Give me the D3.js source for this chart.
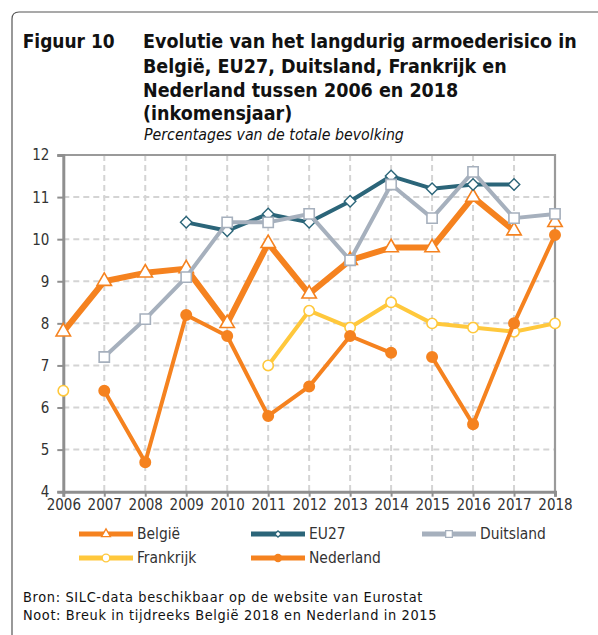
<!DOCTYPE html>
<html><head><meta charset="utf-8">
<script src="https://cdn.jsdelivr.net/npm/d3@7"></script>
<style>html,body{margin:0;padding:0;background:#fff;}svg{display:block;}</style>
</head><body>
<script>
const years = [2006,2007,2008,2009,2010,2011,2012,2013,2014,2015,2016,2017,2018];
const belgie     = [7.8, 9.0, 9.2, 9.3, 8.0, 9.9, 8.7, 9.5, 9.8, 9.8, 11.0, 10.2, 10.4];
const eu27       = [null, null, null, 10.4, 10.2, 10.6, 10.4, 10.9, 11.5, 11.2, 11.3, 11.3, null];
const duitsland  = [null, 7.2, 8.1, 9.1, 10.4, 10.4, 10.6, 9.5, 11.3, 10.5, 11.6, 10.5, 10.6];
const frankrijk  = [6.4, null, null, null, null, 7.0, 8.3, 7.9, 8.5, 8.0, 7.9, 7.8, 8.0];
const nederland  = [null, 6.4, 4.7, 8.2, 7.7, 5.8, 6.5, 7.7, 7.3, 7.2, 5.6, 8.0, 10.1];
const belgieBreaks = [2018];
const nederlandBreaks = [2015];
const yTicks = [4,5,6,7,8,9,10,11,12];
const seriesNames = ["België","EU27","Duitsland","Frankrijk","Nederland"];
const titleLines = ["Evolutie van het langdurig armoederisico in","België, EU27, Duitsland, Frankrijk en","Nederland tussen 2006 en 2018","(inkomensjaar)"];
const figLabel = "Figuur 10";
const subtitle = "Percentages van de totale bevolking";
const footer = ["Bron: SILC-data beschikbaar op de website van Eurostat","Noot: Breuk in tijdreeks België 2018 en Nederland in 2015"];

const W = 598, H = 635;
const FONT = "'DejaVu Sans Condensed','DejaVu Sans',sans-serif";
const svg = d3.select("body").append("svg").attr("width", W).attr("height", H);

// frame
svg.append("path").attr("d", "M12,640 L12,19 Q12,12 19,12 L600,12")
  .attr("fill","none").attr("stroke","#555").attr("stroke-width",1.2);

function fit(sel, target){
  const node = sel.node();
  const fs = parseFloat(sel.attr("font-size"));
  const w = node.getComputedTextLength();
  const nfs = fs * target / w;
  sel.attr("font-size", nfs.toFixed(2));
  return nfs;
}
function spaceFit(sel, target){
  const node = sel.node();
  const w = node.getComputedTextLength();
  const n = node.textContent.length;
  sel.attr("letter-spacing", ((target - w) / n).toFixed(3));
}

// titles
const fl = svg.append("text").attr("x",22.7).attr("y",48).attr("font-family",FONT)
  .attr("font-weight","bold").attr("font-size",18).attr("fill","#111").text(figLabel);
fit(fl, 92);
const titleBase = [48,73,97,120];
const t0 = svg.append("text").attr("x",143).attr("y",titleBase[0]).attr("font-family",FONT)
  .attr("font-weight","bold").attr("font-size",18).attr("fill","#111").text(titleLines[0]);
const tfs = fit(t0, 434);
titleLines.slice(1).forEach((t,i)=>{
  svg.append("text").attr("x",143).attr("y",titleBase[i+1]).attr("font-family",FONT)
    .attr("font-weight","bold").attr("font-size",tfs).attr("fill","#111").text(t);
});
const st = svg.append("text").attr("x",144).attr("y",140).attr("font-family",FONT)
  .attr("font-style","italic").attr("font-size",14).attr("fill","#111").text(subtitle);
fit(st, 260);

// scales
const x = d3.scaleLinear().domain([2006,2018]).range([63.3,555]);
const y = d3.scaleLinear().domain([4,12]).range([491.7,155]);

// grid
const g = svg.append("g");
g.selectAll("line.vg").data(years.slice(1,-1)).join("line")
  .attr("x1",d=>x(d)).attr("x2",d=>x(d)).attr("y1",y(12)).attr("y2",y(4))
  .attr("stroke","#d4d4d4").attr("stroke-width",2).attr("stroke-dasharray","6,4");
g.selectAll("line.hg").data(yTicks.slice(1,-1)).join("line")
  .attr("y1",d=>y(d)).attr("y2",d=>y(d)).attr("x1",x(2006)).attr("x2",x(2018))
  .attr("stroke","#d4d4d4").attr("stroke-width",2).attr("stroke-dasharray","6,4");

// top & right border
svg.append("path").attr("d",`M${x(2006)},${y(12)} L${x(2018)},${y(12)} L${x(2018)},${y(4)}`)
  .attr("fill","none").attr("stroke","#9a9a9a").attr("stroke-width",2.2);

// axes
const yAxis = d3.axisLeft(y).tickValues(yTicks).tickSize(6).tickPadding(8).tickFormat(d3.format("d"));
const xAxis = d3.axisBottom(x).tickValues(years).tickSize(5).tickPadding(3).tickFormat(d3.format("d"));
const ya = svg.append("g").attr("transform",`translate(${x(2006)},0)`).call(yAxis);
const xa = svg.append("g").attr("transform",`translate(0,${y(4)})`).call(xAxis);
[ya,xa].forEach(a=>{
  a.select(".domain").attr("stroke","#8f8f8f").attr("stroke-width",3);
  a.selectAll(".tick line").attr("stroke","#8f8f8f").attr("stroke-width",2);
  a.selectAll(".tick text").attr("font-family",FONT).attr("font-size",15).attr("fill","#333");
});
ya.selectAll(".tick text").attr("dy","0.33em");

// series
const C_OR = "#f5821f", C_TEAL = "#2b6579", C_GREY = "#a6b0bd", C_YEL = "#ffc83c";
function segs(vals, breaks){
  const out = []; let cur = [];
  years.forEach((yr,i)=>{
    const v = vals[i];
    if (v == null || breaks.includes(yr)) { if (cur.length) out.push(cur); cur = []; }
    if (v != null) cur.push([yr,v]);
  });
  if (cur.length) out.push(cur);
  return out;
}
const line = d3.line().x(d=>x(d[0])).y(d=>y(d[1]));

const sym = {
  tri: d3.symbol().type(d3.symbolTriangle),
  dia: d3.symbol().type(d3.symbolSquare),
  sq: d3.symbol().type(d3.symbolSquare),
  cir: d3.symbol().type(d3.symbolCircle)
};
const rot = {tri:0, dia:45, sq:0, cir:0};

const series = [
  {name:seriesNames[0], vals:belgie, breaks:belgieBreaks, color:C_OR, lw:6, marker:"tri", size:90, lsize:34, fill:"#fff", sw:1.6},
  {name:seriesNames[1], vals:eu27, breaks:[], color:C_TEAL, lw:4, marker:"dia", size:66, lsize:20, fill:"#fff", sw:1.4},
  {name:seriesNames[2], vals:duitsland, breaks:[], color:C_GREY, lw:4, marker:"sq", size:105, lsize:45, fill:"#fff", sw:1.6},
  {name:seriesNames[3], vals:frankrijk, breaks:[], color:C_YEL, lw:4, marker:"cir", size:84, lsize:45, fill:"#fff", sw:1.6},
  {name:seriesNames[4], vals:nederland, breaks:nederlandBreaks, color:C_OR, lw:4, marker:"cir", size:113, lsize:55, fill:C_OR, sw:0}
];

series.forEach(s=>{
  const sg = svg.append("g");
  sg.selectAll("path.l").data(segs(s.vals,s.breaks)).join("path")
    .attr("d",line).attr("fill","none").attr("stroke",s.color).attr("stroke-width",s.lw)
    .attr("stroke-linejoin","round");
  const pts = years.map((yr,i)=>[yr,s.vals[i]]).filter(d=>d[1]!=null);
  sg.selectAll("path.m").data(pts).join("path")
    .attr("transform",d=>`translate(${x(d[0])},${y(d[1])}) rotate(${rot[s.marker]})`)
    .attr("d", sym[s.marker].size(s.size)())
    .attr("fill",s.fill).attr("stroke",s.color).attr("stroke-width",s.sw);
});

// legend
const legPos = [[79,534],[251,534],[422,534],[79,558],[251,558]];
let legFs = 14;
series.forEach((s,i)=>{
  const [lx,ly] = legPos[i];
  svg.append("line").attr("x1",lx).attr("x2",lx+54).attr("y1",ly).attr("y2",ly)
    .attr("stroke",s.color).attr("stroke-width",5);
  svg.append("path").attr("transform",`translate(${lx+27},${ly}) rotate(${rot[s.marker]})`)
    .attr("d", sym[s.marker].size(s.lsize)())
    .attr("fill",s.fill).attr("stroke",s.color).attr("stroke-width",s.sw? 1.3:0);
  const t = svg.append("text").attr("x",lx+58).attr("y",ly).attr("dy","0.35em")
    .attr("font-family",FONT).attr("font-size",legFs).attr("fill","#333").text(s.name);
  if (i===2) { legFs = fit(t, 66); }
});
svg.selectAll("text").filter(function(){return seriesNames.includes(this.textContent);}).attr("font-size",legFs);

// footer
const f0 = svg.append("text").attr("x",23).attr("y",602).attr("font-family",FONT)
  .attr("font-size",14.4).attr("fill","#111").text(footer[0]);
spaceFit(f0, 400);
const f1 = svg.append("text").attr("x",23).attr("y",620).attr("font-family",FONT)
  .attr("font-size",14.4).attr("fill","#111").text(footer[1]);
spaceFit(f1, 414);
</script>
</body></html>
